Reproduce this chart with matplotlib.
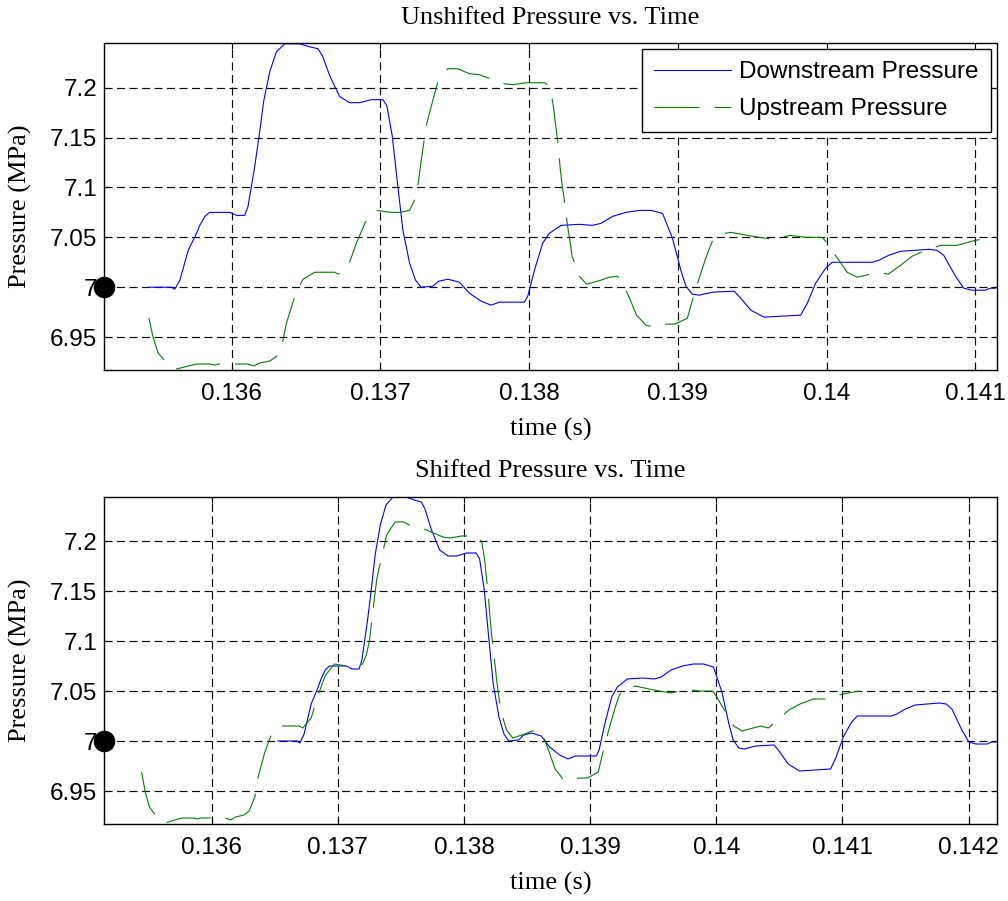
#Recreate the unshifted / shifted pressure vs time figure

import numpy as np
import matplotlib.pyplot as plt

plt.rcParams['lines.scale_dashes'] = False

## Downstream pressure trace (s, MPa)
t_down = [0.135445, 0.135597, 0.135619, 0.135653, 0.135709, 0.135765, 0.135787, 0.135821,
          0.135854, 0.135989, 0.136034, 0.136089, 0.136111, 0.136156, 0.136185, 0.136217,
          0.136257, 0.136302, 0.136358, 0.136458, 0.136526, 0.136581, 0.136611, 0.136660,
          0.136727, 0.136794, 0.136861, 0.136940, 0.137017, 0.137044, 0.137081, 0.137118,
          0.137152, 0.137197, 0.137237, 0.137275, 0.137353, 0.137393, 0.137454, 0.137532,
          0.137599, 0.137678, 0.137745, 0.137801, 0.137969, 0.137991, 0.138036, 0.138091,
          0.138136, 0.138215, 0.138338, 0.138427, 0.138483, 0.138561, 0.138651, 0.138740,
          0.138819, 0.138897, 0.138964, 0.139020, 0.139054, 0.139098, 0.139143, 0.139232,
          0.139378, 0.139423, 0.139490, 0.139579, 0.139702, 0.139826, 0.139870, 0.139926,
          0.139993, 0.140038, 0.140306, 0.140351, 0.140418, 0.140497, 0.140687, 0.140742,
          0.140787, 0.140866, 0.140922, 0.140977, 0.141067, 0.141101, 0.141134]
p_down = [7.000, 7.000, 6.998, 7.007, 7.037, 7.054, 7.062, 7.071,
          7.075, 7.075, 7.072, 7.072, 7.081, 7.121, 7.151, 7.187,
          7.216, 7.236, 7.244, 7.244, 7.241, 7.239, 7.232, 7.212,
          7.191, 7.185, 7.185, 7.188, 7.188, 7.182, 7.151, 7.101,
          7.057, 7.024, 7.007, 7.000, 7.001, 7.006, 7.008, 7.005,
          6.994, 6.986, 6.982, 6.985, 6.985, 6.991, 7.017, 7.044,
          7.054, 7.062, 7.063, 7.062, 7.064, 7.071, 7.075, 7.077,
          7.077, 7.074, 7.049, 7.017, 7.001, 6.993, 6.992, 6.995,
          6.996, 6.989, 6.977, 6.970, 6.971, 6.972, 6.984, 7.004,
          7.019, 7.025, 7.025, 7.027, 7.032, 7.036, 7.038, 7.037,
          7.032, 7.011, 6.999, 6.997, 6.997, 6.999, 6.999]

## Upstream pressure trace (s, MPa)
t_up = [0.135445, 0.135474, 0.135507, 0.135548, 0.135631, 0.135709, 0.135765, 0.135854,
        0.135888, 0.135910, 0.136017, 0.136111, 0.136150, 0.136190, 0.136257, 0.136297,
        0.136342, 0.136369, 0.136420, 0.136463, 0.136481, 0.136559, 0.136693, 0.136722,
        0.136789, 0.136839, 0.136899, 0.136973, 0.137074, 0.137130, 0.137197, 0.137226,
        0.137252, 0.137275, 0.137309, 0.137326, 0.137387, 0.137454, 0.137521, 0.137599,
        0.137666, 0.137740, 0.137834, 0.137890, 0.137980, 0.138109, 0.138141, 0.138163,
        0.138175, 0.138192, 0.138208, 0.138219, 0.138237, 0.138259, 0.138277, 0.138289,
        0.138338, 0.138387, 0.138483, 0.138539, 0.138595, 0.138640, 0.138678, 0.138722,
        0.138785, 0.138841, 0.138908, 0.138980, 0.139064, 0.139098, 0.139143, 0.139183,
        0.139210, 0.139232, 0.139277, 0.139356, 0.139467, 0.139546, 0.139646, 0.139754,
        0.139859, 0.139971, 0.140004, 0.140049, 0.140083, 0.140138, 0.140205, 0.140262,
        0.140351, 0.140413, 0.140497, 0.140574, 0.140664, 0.140769, 0.140877, 0.141000,
        0.141134]
p_up = [6.969, 6.949, 6.934, 6.927, 6.918, 6.921, 6.923, 6.923,
        6.922, 6.923, 6.923, 6.923, 6.921, 6.924, 6.926, 6.930,
        6.944, 6.964, 6.988, 7.003, 7.008, 7.015, 7.015, 7.013,
        7.023, 7.044, 7.065, 7.077, 7.075, 7.075, 7.077, 7.086,
        7.101, 7.127, 7.162, 7.172, 7.206, 7.219, 7.219, 7.214,
        7.213, 7.209, 7.204, 7.203, 7.205, 7.205, 7.199, 7.182,
        7.167, 7.147, 7.121, 7.106, 7.087, 7.061, 7.044, 7.031,
        7.011, 7.003, 7.007, 7.010, 7.011, 7.001, 6.988, 6.972,
        6.962, 6.960, 6.963, 6.963, 6.969, 6.987, 7.009, 7.027,
        7.038, 7.046, 7.053, 7.055, 7.052, 7.050, 7.048, 7.052,
        7.050, 7.050, 7.044, 7.034, 7.027, 7.015, 7.010, 7.012,
        7.015, 7.013, 7.022, 7.031, 7.037, 7.042, 7.042, 7.047,
        7.050]

## time shift applied to downstream trace
shift = 0.00108

yticks = [6.95, 7.0, 7.05, 7.1, 7.15, 7.2]
ylabels = ['6.95', '7', '7.05', '7.1', '7.15', '7.2']
xticks_top = [0.136, 0.137, 0.138, 0.139, 0.140, 0.141]
xlabels_top = ['0.136', '0.137', '0.138', '0.139', '0.14', '0.141']
xticks_bot = [0.136, 0.137, 0.138, 0.139, 0.140, 0.141, 0.142]
xlabels_bot = ['0.136', '0.137', '0.138', '0.139', '0.14', '0.141', '0.142']

serif = 'Liberation Serif'
sans = 'Liberation Sans'

fig = plt.figure(figsize=(10.08, 9.01), dpi=100)
ax1 = fig.add_axes([104/1008, (901-370)/901, 893.3/1008, 326.5/901])
ax2 = fig.add_axes([104/1008, (901-824)/901, 893.3/1008, 327.3/901])

def style(ax, xl, xt, xtl, title):
    ax.set_xlim(xl)
    ax.set_ylim(6.917, 7.2443)
    ax.set_xticks(xt)
    ax.set_xticklabels(xtl, family=sans, fontsize=17.5)
    ax.set_yticks(yticks)
    ax.set_yticklabels(ylabels, family=sans, fontsize=17.5)
    ax.tick_params(direction='in', length=4.5, width=0.8, top=True, right=True)
    ax.tick_params(axis='x', pad=9)
    ax.tick_params(axis='y', pad=5)
    ax.grid(True, color='0.05', linestyle=(0, (5.8, 3.2)), linewidth=0.85)
    for s in ax.spines.values():
        s.set_linewidth(1.0)
    ax.set_title(title, family=serif, fontsize=19, pad=14)
    ax.set_xlabel('time (s)', family=serif, fontsize=19, labelpad=10)
    ax.set_ylabel('Pressure (MPa)', family=serif, fontsize=19)
    ax.yaxis.set_label_coords((32.5-104)/893.3, 0.5)
    ax.plot(xl[0], 7.0, 'ko', ms=14.5, clip_on=False, zorder=5)

up_style = dict(color=(0, 0.5, 0), lw=0.8, linestyle=(0, (32.4, 10.8)))

ax1.plot(t_down, p_down, color='b', lw=0.8, label='Downstream Pressure')
ax1.plot(t_up, p_up, label='Upstream Pressure', **up_style)
style(ax1, (0.135143, 0.141147), xticks_top, xlabels_top, 'Unshifted Pressure vs. Time')
leg = ax1.legend(loc='upper right', bbox_to_anchor=(0.99295, 0.9822), borderaxespad=0,
                 prop={'family': sans, 'size': 17.5}, fancybox=False, framealpha=1,
                 edgecolor='k', handlelength=3.16, handletextpad=0.34, labelspacing=0.6,
                 borderpad=0.5)
leg.get_frame().set_linewidth(1.0)

ax2.plot(np.array(t_down) + shift, p_down, color='b', lw=0.8)
ax2.plot(t_up, p_up, **up_style)
style(ax2, (0.135147, 0.142227), xticks_bot, xlabels_bot, 'Shifted Pressure vs. Time')

plt.savefig('out.png', dpi=100)
